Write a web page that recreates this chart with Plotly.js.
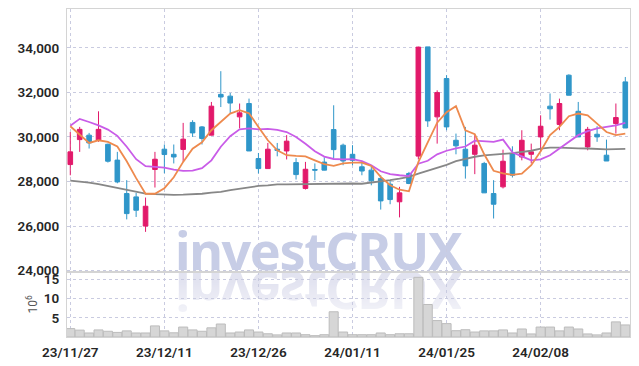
<!DOCTYPE html>
<html>
<head>
<meta charset="utf-8">
<script src="https://cdn.plot.ly/plotly-3.0.1.min.js"></script>
<style>
  html, body { margin: 0; padding: 0; background: #ffffff; }
  #wrap { position: relative; width: 639px; height: 366px; overflow: hidden; }
  #chart { position: absolute; left: 0; top: 0; width: 639px; height: 366px; z-index: 2; }
  .wm { position: absolute; left: 175px; font-family: "Noto Sans", sans-serif; font-weight: 700;
        font-size: 52px; line-height: 52px; letter-spacing: -1.4px; white-space: nowrap; z-index: 1; }
  #wm1 { top: 224px; color: #c7cde6; }
  #wm2 { top: 266px; color: #e2e3f0; transform: scaleY(-1);
         -webkit-mask-image: linear-gradient(to top, rgba(0,0,0,1) 30%, rgba(0,0,0,0.35) 100%);
         mask-image: linear-gradient(to top, rgba(0,0,0,1) 30%, rgba(0,0,0,0.35) 100%); }
</style>
</head>
<body>
<div id="wrap">
  <div class="wm" id="wm1">investCRUX</div>
  <div class="wm" id="wm2">investCRUX</div>
  <div id="chart"></div>
</div>
<script>
const dates = [
  "23/11/27","23/11/28","23/11/29","23/11/30","23/12/01","23/12/04","23/12/05","23/12/06","23/12/07","23/12/08",
  "23/12/11","23/12/12","23/12/13","23/12/14","23/12/15","23/12/18","23/12/19","23/12/20","23/12/21","23/12/22",
  "23/12/26","23/12/27","23/12/28","24/01/02","24/01/03","24/01/04","24/01/05","24/01/08","24/01/09","24/01/10",
  "24/01/11","24/01/12","24/01/15","24/01/16","24/01/17","24/01/18","24/01/19","24/01/22","24/01/23","24/01/24",
  "24/01/25","24/01/26","24/01/29","24/01/30","24/01/31","24/02/01","24/02/02","24/02/05","24/02/06","24/02/07",
  "24/02/08","24/02/13","24/02/14","24/02/15","24/02/16","24/02/19","24/02/20","24/02/21","24/02/22","24/02/23"
];
const openP = [
  28760,29880,30080,29850,29670,28960,27460,27310,26000,28540,
  29450,29220,29440,30650,30450,30080,31910,31830,30900,31500,
  29030,28580,29450,29370,28850,27690,28540,28870,30330,29630,
  29220,28660,28510,28140,27880,27090,28360,29140,34040,30900,
  32620,29850,29450,29220,28810,27460,27760,29260,29100,29220,
  30000,31380,30560,32770,31150,29550,30120,29180,30600,32470
];
const highP = [
  30220,30450,30180,31150,29700,29330,28060,27490,27280,29330,
  29660,29660,30630,30750,30490,31570,32950,31970,31500,31720,
  29280,29730,29730,30080,29050,28880,28810,29090,31420,29700,
  29630,28880,28730,28280,28060,27760,28430,34050,34040,32090,
  32770,30150,30450,30080,28880,28060,29430,29580,30300,29700,
  30970,31950,31720,32810,31570,30450,30480,29880,31500,32690
];
const lowP = [
  28280,29330,29480,29780,28850,27920,26300,26410,25740,27730,
  28370,28810,28880,30000,29660,30070,31340,31050,30380,29370,
  28360,28580,29130,28990,28090,27640,28060,28500,29030,28730,
  28730,28280,27830,26740,26980,26390,27880,28990,30450,29700,
  30300,29220,28130,28330,27490,26340,27690,28180,28950,28810,
  29330,30780,30300,31870,30000,29400,29780,28920,30150,30400
];
const closeP = [
  29330,30340,29730,30340,28910,27980,26560,26710,26890,29000,
  29210,29100,29900,30180,29930,31380,31790,31520,31080,29370,
  28580,29450,29400,29810,28310,28550,28510,28510,29430,28920,
  28950,28470,28030,27130,27190,27490,27910,34030,30720,31990,
  30450,29600,28700,29630,27490,26980,28910,28280,29850,29330,
  30480,31260,31500,31870,30000,30340,30000,28920,30870,30400
];
const ma5 = [
  30480,30120,29730,29850,29780,29570,28910,28150,27450,27450,
  27700,28190,28880,29470,29760,30300,30670,31050,31200,31060,
  30450,29850,29400,29180,29150,29130,28950,28780,28700,28810,
  28850,28850,28700,28210,27830,27630,27560,28870,29760,30640,
  31110,31380,30300,30120,29220,28480,28360,28300,28350,28730,
  29360,30080,30450,30930,31050,30970,30600,30220,30080,30150
];
const ma10 = [
  30500,30810,30670,30520,30330,30050,29560,29000,28690,28640,
  28620,28530,28480,28490,28600,28950,29560,30030,30340,30380,
  30340,30360,30320,30220,30000,29690,29360,29120,29010,28990,
  29000,28910,28730,28460,28330,28280,28240,28800,28930,29220,
  29380,29490,29570,29830,29820,29780,29880,29310,29130,28950,
  28990,29180,29480,29780,30080,30260,30380,30450,30520,30630
];
const ma60 = [
  28040,28010,27950,27880,27800,27720,27630,27550,27460,27430,
  27410,27400,27410,27420,27450,27500,27530,27610,27680,27740,
  27800,27830,27870,27870,27880,27880,27880,27890,27900,27910,
  27910,27900,27950,27990,28060,28130,28210,28350,28480,28620,
  28750,28910,29020,29110,29170,29190,29240,29270,29310,29380,
  29480,29520,29520,29520,29490,29480,29450,29440,29450,29460
];
const volume = [
  2.2,1.8,1.05,1.85,1.5,1.2,1.6,1.05,1.05,2.9,
  1.6,1.1,2.6,1.85,1.5,2.4,3.4,1.05,1.3,1.85,
  1.3,0.85,0.55,1.05,1.05,0.6,0.35,0.6,6.6,1.3,
  0.6,0.6,0.6,1.05,0.6,0.85,0.85,15.6,8.5,4.3,
  3.5,1.65,1.9,1.3,1.6,1.6,1.85,1.05,2.1,0.8,
  2.6,2.6,1.6,2.6,2.1,0.8,0.55,1.05,3.95,3.15
];
const tickIdx = [0,10,20,30,40,50];
const tickDates = tickIdx.map(i => dates[i]);
const priceTicks = [24000,26000,28000,30000,32000,34000];
const volTicks = [5,10,15];

const RED = '#e2196a', BLUE = '#2f96c9';
const gridC = '#c9cbe0';
const tickFont = {family: 'Roboto, sans-serif', size: 13.5, color: '#262626', weight: 600};

const traces = [
  {type:'candlestick', x:dates, open:openP, high:highP, low:lowP, close:closeP,
   xaxis:'x2', yaxis:'y', whiskerwidth:0,
   increasing:{line:{color:RED,width:1}, fillcolor:RED},
   decreasing:{line:{color:BLUE,width:1}, fillcolor:BLUE},
   hoverinfo:'skip', showlegend:false},
  {type:'scatter', mode:'lines', x:dates, y:ma60, xaxis:'x2', yaxis:'y',
   line:{color:'#878787', width:1.8}, hoverinfo:'skip', showlegend:false},
  {type:'scatter', mode:'lines', x:dates, y:ma10, xaxis:'x2', yaxis:'y',
   line:{color:'#c95ce8', width:1.8}, hoverinfo:'skip', showlegend:false},
  {type:'scatter', mode:'lines', x:dates, y:ma5, xaxis:'x2', yaxis:'y',
   line:{color:'#ee8a4e', width:1.8}, hoverinfo:'skip', showlegend:false},
  {type:'bar', x:dates, y:volume, xaxis:'x', yaxis:'y2',
   marker:{color:'#d6d6d6', line:{color:'#bcbcbc', width:1}},
   hoverinfo:'skip', showlegend:false}
];

const xCommon = {
  type:'category', range:[-0.35, 59.5], tickmode:'array', tickvals:tickDates,
  showgrid:true, gridcolor:gridC, griddash:'dot', gridwidth:1,
  showline:true, mirror:true, linecolor:'#d4d4d4', linewidth:1,
  zeroline:false, fixedrange:true
};

const layout = {
  width:639, height:366,
  margin:{l:67, r:9, t:9, b:29},
  paper_bgcolor:'rgba(0,0,0,0)', plot_bgcolor:'rgba(0,0,0,0)',
  showlegend:false, hovermode:false, bargap:0.04,
  xaxis: Object.assign({}, xCommon, {anchor:'y2', ticktext:tickDates, tickfont:tickFont,
          ticks:'outside', ticklen:3, tickcolor:'rgba(0,0,0,0)', rangeslider:{visible:false}}),
  xaxis2: Object.assign({}, xCommon, {anchor:'y', matches:'x', showticklabels:false,
          rangeslider:{visible:false}}),
  yaxis: {domain:[0.1982, 1], range:[23940, 35740], tickmode:'array', tickvals:priceTicks,
          ticktext:priceTicks.map(v => v.toLocaleString('en-US')), tickfont:tickFont,
          showgrid:true, gridcolor:gridC, griddash:'dot', gridwidth:1,
          showline:true, mirror:true, linecolor:'#d4d4d4', zeroline:false,
          ticks:'outside', ticklen:4, tickcolor:'rgba(0,0,0,0)', fixedrange:true},
  yaxis2: {domain:[0, 0.1982], range:[0, 17], tickmode:'array', tickvals:volTicks,
          ticktext:volTicks.map(String), tickfont:tickFont,
          showgrid:true, gridcolor:gridC, griddash:'dot', gridwidth:1,
          showline:true, mirror:true, linecolor:'#d4d4d4', zeroline:false,
          ticks:'outside', ticklen:4, tickcolor:'rgba(0,0,0,0)', fixedrange:true,
          title:{text:'10<sup>6</sup>', font:{family:'Roboto, sans-serif', size:12, color:'#555'}, standoff:3}}
};

Plotly.newPlot('chart', traces, layout, {staticPlot:true, displayModeBar:false});
</script>
</body>
</html>
